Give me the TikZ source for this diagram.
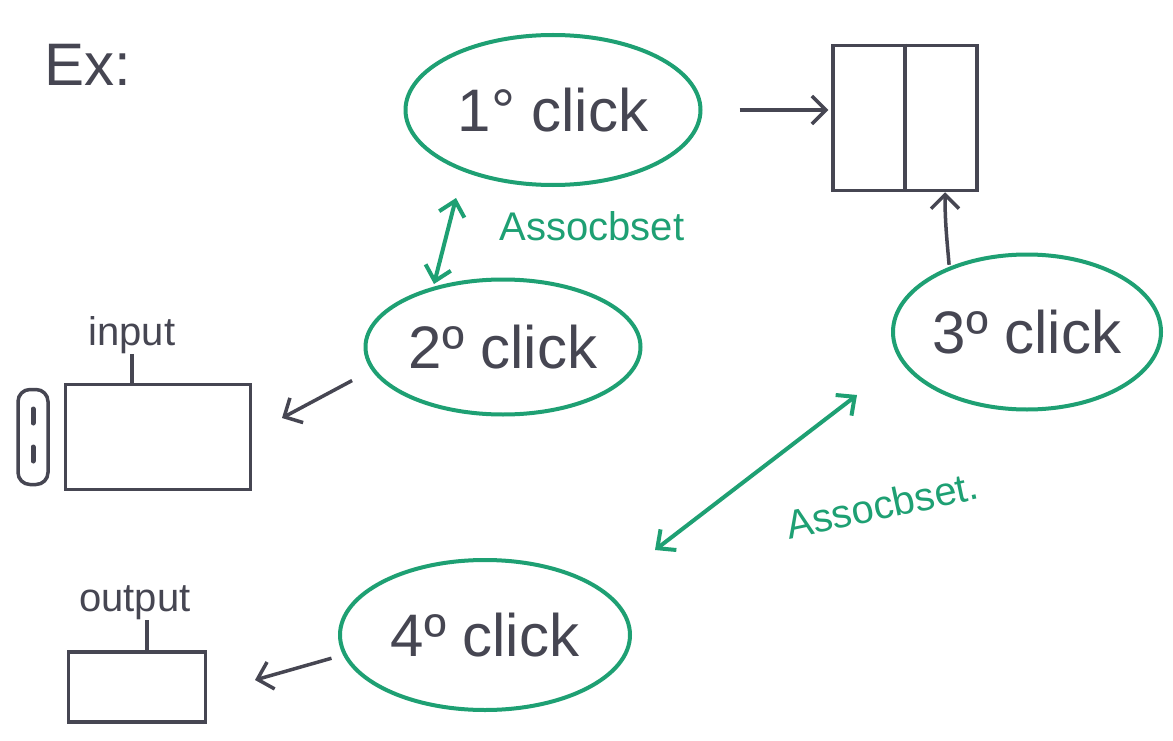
\documentclass[tikz,border=0pt]{standalone}
\usepackage{fontspec}
\setmainfont{Liberation Sans}
\usetikzlibrary{shapes.geometric,arrows.meta,calc}
\definecolor{pen}{RGB}{70,70,82}
\definecolor{mark}{RGB}{30,160,115}
\tikzset{
  clickbox/.style={ellipse,draw=mark,line width=4pt,text=pen,font=\fontsize{60}{60}\selectfont,inner sep=0pt},
  penbox/.style={rectangle,draw=pen,line width=3.5pt,inner sep=0pt},
  penarr/.style={draw=pen,line width=3.5pt,-{Straight Barb[length=14pt,width=28pt,line width=3.5pt]}},
  greenarr/.style={draw=mark,line width=4pt,{Straight Barb[length=14pt,width=26pt,line width=4pt]}-{Straight Barb[length=14pt,width=26pt,line width=4pt]}},
  pentext/.style={text=pen,font=\fontsize{40}{40}\selectfont,inner sep=0pt},
  greentext/.style={text=mark,font=\fontsize{40}{40}\selectfont,inner sep=0pt}
}
\begin{document}
\begin{tikzpicture}[x=1pt,y=-1pt]
\useasboundingbox[fill=white] (0,0) rectangle (1173,741);
\node[pentext,font=\fontsize{60}{60}\selectfont] (ex) at (88,65) {Ex:};

\node[clickbox,minimum width=295pt,minimum height=150pt] (c1) at (553,110) {1° click};
\node[clickbox,minimum width=275pt,minimum height=135pt] (c2) at (503,347) {2º click};
\node[clickbox,minimum width=268pt,minimum height=155pt] (c3) at (1027,332) {3º click};
\node[clickbox,minimum width=290pt,minimum height=150pt] (c4) at (485,635) {4º click};

\node[penbox,minimum width=144pt,minimum height=145pt] (reg) at (905,118) {};
\draw[pen,line width=3.5pt] (reg.north) -- (reg.south);

\node[penbox,minimum width=185pt,minimum height=105pt] (inp) at (158,437) {};
\node[penbox,rounded corners=12pt,minimum width=30pt,minimum height=95pt] (plug) at (33,437) {};
\draw[pen,line width=5pt,line cap=round] ($(plug.center)+(0,-28)$) -- ($(plug.center)+(0,-14)$);
\draw[pen,line width=5pt,line cap=round] ($(plug.center)+(0,10)$) -- ($(plug.center)+(0,24)$);
\node[pentext] (inl) at (132,335) {input};
\draw[pen,line width=3.5pt] (inl.south) -- (inl.south |- inp.north);

\node[penbox,minimum width=137pt,minimum height=70pt] (out) at (137,687) {};
\node[pentext] (outl) at (135,603) {output};
\coordinate (ot) at ($(outl.south)+(12,0)$);
\draw[pen,line width=3.5pt] (ot) -- (ot |- out.north);

% connectors
\draw[penarr,shorten <=37pt,shorten >=3pt] (c1.east) -- (c1.east -| reg.west);
\coordinate (rb) at ($(reg.south)+(40,0)$);
\draw[penarr,shorten <=2pt] (c3.140) to[out=95,in=-90] (rb);
\coordinate (i2) at (282,418);
\draw[penarr,shorten <=22pt] (c2.190) -- (i2);
\coordinate (o4) at (255,680);
\draw[penarr,shorten <=12pt] (c4.188) -- (o4);

\coordinate (a1) at (456,198);
\coordinate (a2) at (434,284);
\draw[greenarr] (a1) -- (a2);
\node[greentext] (l1) at (592,226) {Assocbset};

\coordinate (b1) at (857,395);
\coordinate (b2) at (655,550);
\draw[greenarr] (b1) -- (b2);
\node[greentext,rotate=12] (l2) at (882,505) {Assocbset.};
\end{tikzpicture}
\end{document}
